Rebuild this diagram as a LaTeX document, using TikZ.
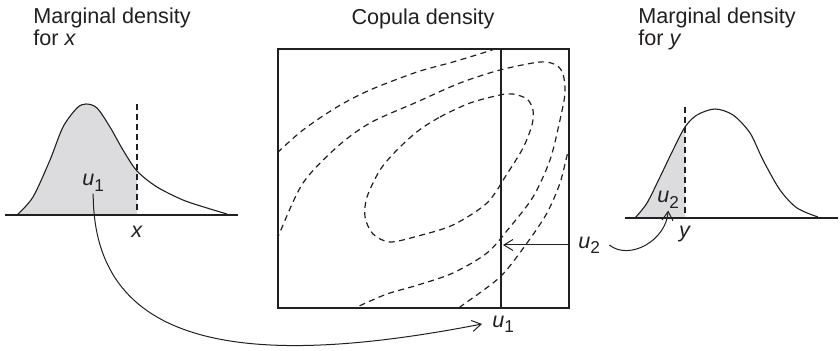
\documentclass[tikz,border=0pt]{standalone}
\usepackage{fontspec}
\setmainfont{Liberation Sans}
\usepackage{tikz}
\usetikzlibrary{arrows.meta, calc}
\definecolor{copInk}{HTML}{231F20}
\definecolor{copShade}{HTML}{DCDCDE}
\newcommand{\titlefont}{\fontsize{10.8}{11.3}\selectfont}
\newcommand{\uvar}[1]{\textit{u}\raisebox{-0.45ex}{\fontsize{8.6}{9}\selectfont #1}}

\begin{document}
\begin{tikzpicture}[x=0.5pt, y=-0.5pt, >={Straight Barb[length=4.5pt, width=5.5pt]},
    frame/.style={draw=copInk, line width=0.6pt},
    density/.style={draw=copInk, line width=0.55pt},
    cutline/.style={draw=copInk, line width=0.55pt, dash pattern=on 3pt off 2pt},
    contour/.style={draw=copInk, line width=0.6pt, dash pattern=on 3pt off 2.2pt},
    link/.style={->, draw=copInk, line width=0.5pt},
    title/.style={font=\titlefont, text=copInk, align=left, inner sep=0pt},
    lab/.style={font=\titlefont, text=copInk, inner sep=1pt}]

  \useasboundingbox (0,0) rectangle (840,351);

  % titles
  \node[title, anchor=north west] (tx) at (33,7)  {Marginal density\\for \textit{x}};
  \node[title, anchor=base]       (tc) at (423,25) {Copula density};
  \node[title, anchor=north west] (ty) at (638,7) {Marginal density\\for \textit{y}};

  % marginal for x
  \begin{scope}
    \clip (0,0) rectangle (137,215);
    \fill[copShade] plot[smooth] coordinates {(17,215) (33,197) (50,160) (63,127) (77,108) (86,104)
      (97,108) (110,127) (123,150) (137,171) (157,187) (183,200) (207,208) (227,214)} -- cycle;
  \end{scope}
  \draw[density] plot[smooth] coordinates {(17,215) (33,197) (50,160) (63,127) (77,108) (86,104)
      (97,108) (110,127) (123,150) (137,171) (157,187) (183,200) (207,208) (227,214)};
  \draw[cutline] (137,104) -- (137,215);
  \draw[frame] (5,215) -- (238,215);
  \node[lab, anchor=base]      (xl)  at (137,238) {\textit{x}};
  \node[lab, anchor=base west] (u1a) at (80,186)  {\uvar{1}};

  % marginal for y
  \begin{scope}
    \clip (600,0) rectangle (685,218);
    \fill[copShade] plot[smooth] coordinates {(635,218) (647,203) (660,177) (673,150) (685,127) (697,115)
      (715,109) (733,115) (750,133) (763,160) (780,190) (797,208) (818,217)} -- cycle;
  \end{scope}
  \draw[density] plot[smooth] coordinates {(635,218) (647,203) (660,177) (673,150) (685,127) (697,115)
      (715,109) (733,115) (750,133) (763,160) (780,190) (797,208) (818,217)};
  \draw[cutline] (685,107) -- (685,218);
  \draw[frame] (625,218) -- (838,218);
  \node[lab, anchor=base]      (yl)  at (685,238) {\textit{y}};
  \node[lab, anchor=base west] (u2c) at (655,203) {\uvar{2}};

  % copula density
  \begin{scope}
    \clip (278,49) rectangle (569,308);
    \draw[contour] plot[smooth] coordinates {(270,160) (277,153) (303,130) (337,107) (370,90) (417,72)
      (453,62) (492,50) (500,46)};
    \draw[contour] plot[smooth] coordinates {(572,145) (568,152) (560,183) (547,213) (527,243)
      (500,277) (460,307) (455,311)};
    \draw[contour] plot[smooth] coordinates {(277,240) (280,232) (303,183) (337,147) (370,123) (417,102)
      (460,83) (500,70) (540,62) (556,65) (563,74) (565,93) (560,120) (550,160) (533,197) (510,227)
      (487,253) (453,273) (418,285) (387,294) (357,307) (352,310)};
    \draw[contour] plot[smooth cycle] coordinates {(418,131) (440,117) (470,103) (500,95) (513,94)
      (527,99) (533,110) (532,125) (523,148) (507,174) (487,203) (453,225) (418,236) (390,242)
      (373,234) (365,217) (367,197) (380,170) (397,150)};
  \end{scope}
  \draw[frame] (278,49) rectangle (569,308);
  \coordinate (cuttop) at (501,49);
  \coordinate (cutbot) at (501,308);
  \draw[frame] (cuttop) -- (cutbot);

  \node[lab, anchor=west, inner xsep=5pt]   (u1b) at (482,324) {\uvar{1}};
  \node[lab, anchor=west, inner xsep=4.5pt] (u2b) at (569,245) {\uvar{2}};

  % connectors
  \draw[link] (u1a.south) .. controls +(0,160) and +(-226,44) .. (u1b.west);
  \draw[link, shorten >=1pt] (u2b.west) -- (u2b.west -| cuttop);
  \draw[link] (u2b.east) .. controls +(20,16) and +(-2,30) .. (u2c.south);
\end{tikzpicture}
\end{document}
